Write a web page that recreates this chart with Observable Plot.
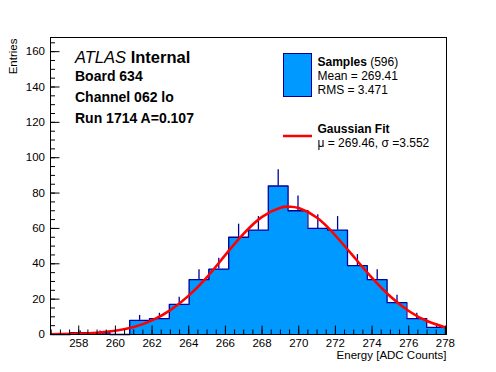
<!DOCTYPE html>
<html>
<head>
<meta charset="utf-8">
<script src="https://cdn.jsdelivr.net/npm/d3@7"></script>
<script src="https://cdn.jsdelivr.net/npm/@observablehq/plot@0.6"></script>
<style>
  html, body { margin: 0; padding: 0; background: white; }
  #chart { width: 496px; height: 372px; }
</style>
</head>
<body>
<div id="chart"></div>
<script>
// ---- data ----
const binEdges = [256.46, 257.54, 258.62, 259.70, 260.78, 261.86, 262.94, 264.02, 265.10, 266.18, 267.26,
                  268.34, 269.42, 270.50, 271.58, 272.66, 273.74, 274.82, 275.90, 276.98, 278.06];
const counts = [0, 1, 1, 0, 8, 9, 17, 31, 37, 55, 59, 84, 70, 60, 59, 39, 31, 18, 9, 4];
const errors = [0, 1, 1, 0, 2.8, 3, 4.1, 5.6, 6.1, 7.4, 7.7, 9.2, 8.4, 7.7, 7.7, 6.2, 5.6, 4.2, 3, 2];
const fitX = [256.46, 257, 258, 259, 260, 261, 262, 263, 264, 265, 266, 267, 268, 269, 269.5, 270, 271, 272, 273, 274, 275, 276, 277, 278, 278.06];
const fitY = [0.1, 0.2, 0.5, 1.0, 2.1, 4.2, 8.0, 13.8, 22.0, 32.5, 45.0, 57.0, 66.5, 71.7, 72.3, 71.5, 66.0, 56.0, 44.0, 32.0, 21.5, 13.3, 7.6, 4.0, 3.8];
const xMajorTicks = [258, 260, 262, 264, 266, 268, 270, 272, 274, 276, 278];
const yMajorTicks = [0, 20, 40, 60, 80, 100, 120, 140, 160];
const xDomain = [256.46, 278.06];
const yDomain = [0, 168];
const xTitle = "Energy [ADC Counts]";
const yTitle = "Entries";

// ---- tables built from the arrays ----
const bins = counts.map((n, i) => ({lo: binEdges[i], hi: binEdges[i + 1], n, err: errors[i]}));
const steps = bins.flatMap(b => [{x: b.lo, y: b.n}, {x: b.hi, y: b.n}]);
const fit = fitX.map((x, i) => ({x, y: fitY[i]}));
const xMinorTicks = d3.range(256.5, 278.01, 0.5);
const yMinorTicks = d3.range(0, 168, 5);

const W = 496, H = 372, mL = 50, mR = 50, mT = 37, mB = 38;
const pw = W - mL - mR, ph = H - mT - mB;
const fill = "#0099ff", dark = "#000099";

const svg = Plot.plot({
  width: W, height: H,
  marginLeft: mL, marginRight: mR, marginTop: mT, marginBottom: mB,
  x: {domain: xDomain},
  y: {domain: yDomain},
  style: {fontFamily: "'Liberation Sans', Arial, sans-serif", fontSize: "11.5px", color: "black", background: "white", overflow: "visible"},
  marks: [
    Plot.rectY(bins, {x1: "lo", x2: "hi", y1: 0, y2: "n", fill: fill, inset: 0, shapeRendering: "crispEdges"}),
    Plot.line(steps, {x: "x", y: "y", stroke: dark, strokeWidth: 1.3}),
    Plot.ruleX(bins.filter(b => b.n > 0), {x: b => (b.lo + b.hi) / 2, y1: "n", y2: b => b.n + b.err, stroke: dark, strokeWidth: 1.3}),
    Plot.line(fit, {x: "x", y: "y", stroke: "#ff0000", strokeWidth: 2.6, curve: "natural", clip: true}),
    Plot.frame({stroke: "black", strokeWidth: 1}),
    Plot.ruleX(xMinorTicks, {x: d => d, insetTop: ph - 4.5, stroke: "black"}),
    Plot.ruleX(xMajorTicks, {x: d => d, insetTop: ph - 8.5, stroke: "black"}),
    Plot.ruleY(yMinorTicks, {y: d => d, insetRight: pw - 5, stroke: "black"}),
    Plot.ruleY(yMajorTicks, {y: d => d, insetRight: pw - 9.5, stroke: "black"}),
    Plot.axisX({ticks: xMajorTicks, tickSize: 0, tickPadding: 4, label: null}),
    Plot.axisY({ticks: yMajorTicks, tickSize: 0, tickPadding: 5.5, label: null}),
    Plot.text([xTitle], {frameAnchor: "bottom-right", text: d => d, textAnchor: "end", lineAnchor: "bottom", dy: 24, fontSize: 11.5}),
    Plot.text([yTitle], {frameAnchor: "top-left", text: d => d, textAnchor: "end", rotate: -90, lineAnchor: "bottom", dx: -34, dy: 1, fontSize: 11.5})
  ]
});
document.getElementById("chart").appendChild(svg);

// ---- annotations (labels and legend) ----
const s = d3.select(svg);
const ff = "'Liberation Sans', Arial, sans-serif";
function line(x, y, parts, size) {
  const t = s.append("text").attr("x", x).attr("y", y).attr("text-anchor", "start")
    .attr("font-family", ff).attr("font-size", size).attr("fill", "black");
  parts.forEach(p => t.append("tspan").attr("font-weight", p.b ? "bold" : "normal").attr("font-style", p.i ? "italic" : "normal").text(p.t));
}
line(75, 62.5, [{t: "ATLAS", i: true}, {t: " Internal", b: true}], 16.5);
line(75, 80.7, [{t: "Board 634", b: true}], 14);
line(75, 101.7, [{t: "Channel 062 lo", b: true}], 14);
line(75, 122.7, [{t: "Run 1714 A=0.107", b: true}], 14);

s.append("rect").attr("x", 283.5).attr("y", 53.5).attr("width", 28).attr("height", 43)
  .attr("fill", fill).attr("stroke", dark).attr("stroke-width", 1);
line(317.5, 65.5, [{t: "Samples", b: true}, {t: " (596)"}], 12);
line(317.5, 79.5, [{t: "Mean = 269.41"}], 12);
line(317.5, 93.5, [{t: "RMS = 3.471"}], 12);
s.append("line").attr("x1", 283).attr("x2", 312).attr("y1", 136).attr("y2", 136)
  .attr("stroke", "#ff0000").attr("stroke-width", 2.5);
line(317.5, 132.5, [{t: "Gaussian Fit", b: true}], 12);
line(317.5, 146.5, [{t: "μ = 269.46, σ =3.552"}], 12);
</script>
</body>
</html>
